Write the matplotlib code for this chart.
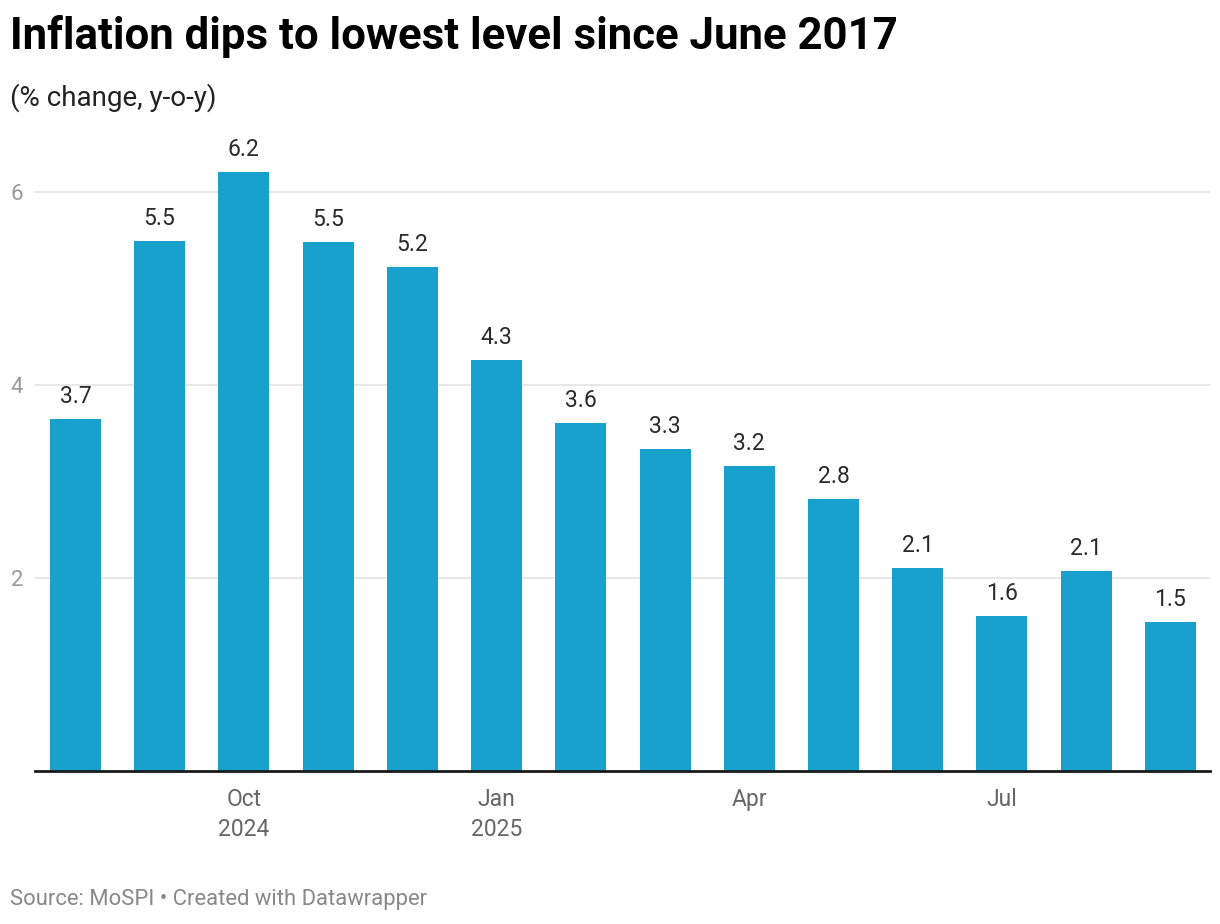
import matplotlib
matplotlib.use('Agg')
import matplotlib.pyplot as plt

plt.rcParams['font.family'] = ['Roboto', 'DejaVu Sans']

# CPI inflation, % change y-o-y, Aug 2024 - Sep 2025
months = ['Aug', 'Sep', 'Oct', 'Nov', 'Dec', 'Jan', 'Feb', 'Mar', 'Apr', 'May', 'Jun', 'Jul', 'Aug', 'Sep']
values = [3.65, 5.49, 6.21, 5.48, 5.22, 4.26, 3.61, 3.34, 3.16, 2.82, 2.10, 1.61, 2.07, 1.54]
value_labels = ['3.7', '5.5', '6.2', '5.5', '5.2', '4.3', '3.6', '3.3', '3.2', '2.8', '2.1', '1.6', '2.1', '1.5']
tick_pos = [2, 5, 8, 11]
tick_labels = ['Oct\n2024', 'Jan\n2025', 'Apr', 'Jul']
y_ticks = [2, 4, 6]

W, H = 1220, 924
fig = plt.figure(figsize=(W / 100, H / 100), dpi=100)
ax = fig.add_axes([35 / W, (H - 771) / H, (1210 - 35) / W, (771 - 150) / H])

x = list(range(len(values)))
ax.bar(x, values, width=0.605, color='#18a1cd', zorder=2)
for xi, v, lab in zip(x, values, value_labels):
    ax.annotate(lab, (xi, v), xytext=(0, 8), textcoords='offset points',
                ha='center', va='bottom', fontsize=16.5, color='#2a2a2a')

ax.set_xlim(-0.48, 13.47)
ax.set_ylim(0, 6.435)
ax.set_yticks(y_ticks)
ax.set_yticklabels([str(t) for t in y_ticks])
ax.set_xticks(tick_pos)
ax.set_xticklabels(tick_labels, linespacing=1.4)
ax.tick_params(axis='x', length=0, pad=12, labelsize=16.5, labelcolor='#666666')
ax.tick_params(axis='y', length=0, pad=8.5, labelsize=16, labelcolor='#999999')
ax.grid(axis='y', color='#e5e5e5', linewidth=1.3, zorder=0)
for s in ['top', 'right', 'left']:
    ax.spines[s].set_visible(False)
ax.spines['bottom'].set_color('#1a1a1a')
ax.spines['bottom'].set_linewidth(2)
ax.spines['bottom'].set_zorder(3)

fig.text(10 / W, 1 - 37 / H, 'Inflation dips to lowest level since June 2017',
         fontsize=31.5, fontweight='bold', color='#000000', va='center', ha='left')
fig.text(10 / W, 1 - 98 / H, '(% change, y-o-y)', fontsize=20, color='#222222', va='center', ha='left')
fig.text(10 / W, 1 - 900 / H, 'Source: MoSPI \u2022 Created with Datawrapper',
         fontsize=15.8, color='#888888', va='center', ha='left')

fig.savefig('out.png', dpi=100)
